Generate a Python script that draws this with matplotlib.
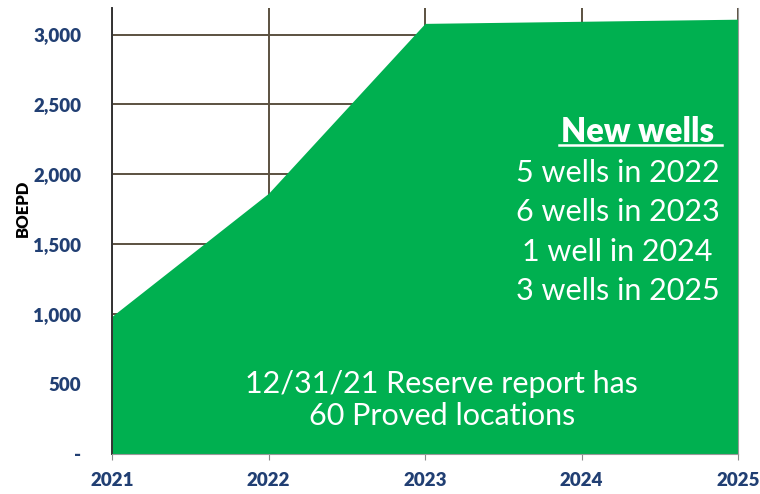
import numpy as np
import matplotlib
matplotlib.use('Agg')
import matplotlib.pyplot as plt
from matplotlib.lines import Line2D

# production forecast
years = [2021, 2022, 2023, 2024, 2025]
boepd = [985, 1865, 3080, 3095, 3110]
y_ticks = [0, 500, 1000, 1500, 2000, 2500, 3000]
y_labels = ['-' if v == 0 else f'{v:,}' for v in y_ticks]

well_lines = ['5 wells in 2022', '6 wells in 2023', '1 well in 2024 ', '3 wells in 2025']
reserve_note = '12/31/21 Reserve report has\n60 Proved locations'

green = '#00B050'
tick_blue = '#213F73'
grid_col = '#5B5140'

plt.rcParams['font.family'] = ['Lato', 'DejaVu Sans']

fig = plt.figure(figsize=(7.6, 4.94), dpi=100)
ax = fig.add_axes([0.1474, 0.081, 0.9711 - 0.1474, 0.9838 - 0.081])

ax.fill_between(years, boepd, 0, color=green, lw=0, zorder=2)

ax.set_xlim(years[0], years[-1])
ax.set_ylim(0, 3190)
ax.set_xticks(years)
ax.set_xticklabels([str(y) for y in years])
ax.set_yticks(y_ticks)
ax.set_yticklabels(y_labels)

for lab in ax.get_xticklabels() + ax.get_yticklabels():
    lab.set_fontweight('heavy')
    lab.set_color(tick_blue)
    lab.set_fontsize(13.5)

ax.tick_params(axis='y', length=0, pad=22)
ax.tick_params(axis='x', length=4, color='#8a8a8a', pad=9)

ax.grid(True, color=grid_col, lw=1.4, zorder=1)
ax.set_axisbelow(True)

ax.spines['top'].set_visible(False)
ax.spines['right'].set_color('#999999')
ax.spines['bottom'].set_color('#999999')
ax.spines['left'].set_color('#333333')
ax.spines['left'].set_linewidth(1.4)
for s in ax.spines.values():
    s.set_zorder(3)

ax.set_ylabel('BOEPD', fontsize=12, fontweight='heavy', color='black')
ax.yaxis.set_label_coords(-0.129, 0.55)

# text block on the right
title = ax.text(0.962, 0.722, 'New wells', transform=ax.transAxes, ha='right', va='center',
                fontsize=23.5, fontweight='heavy', color='white', zorder=4)
for i, line in enumerate(well_lines):
    ax.text(0.971, 0.63 - i * 0.088, line, transform=ax.transAxes, ha='right', va='center',
            fontsize=22, color='white', zorder=4)

ax.text(0.527, 0.121, reserve_note, transform=ax.transAxes, ha='center', va='center',
        fontsize=22, color='white', linespacing=1.2, zorder=4)

# underline the heading
fig.canvas.draw()
bb = title.get_window_extent()
inv = fig.transFigure.inverted()
x0, y0 = inv.transform((bb.x0 - 2, bb.y0 + 3))
x1, _ = inv.transform((bb.x1 + 8, bb.y0 + 3))
fig.add_artist(Line2D([x0, x1], [y0, y0], color='white', lw=1.8, transform=fig.transFigure))

fig.savefig('out.png', dpi=100)
